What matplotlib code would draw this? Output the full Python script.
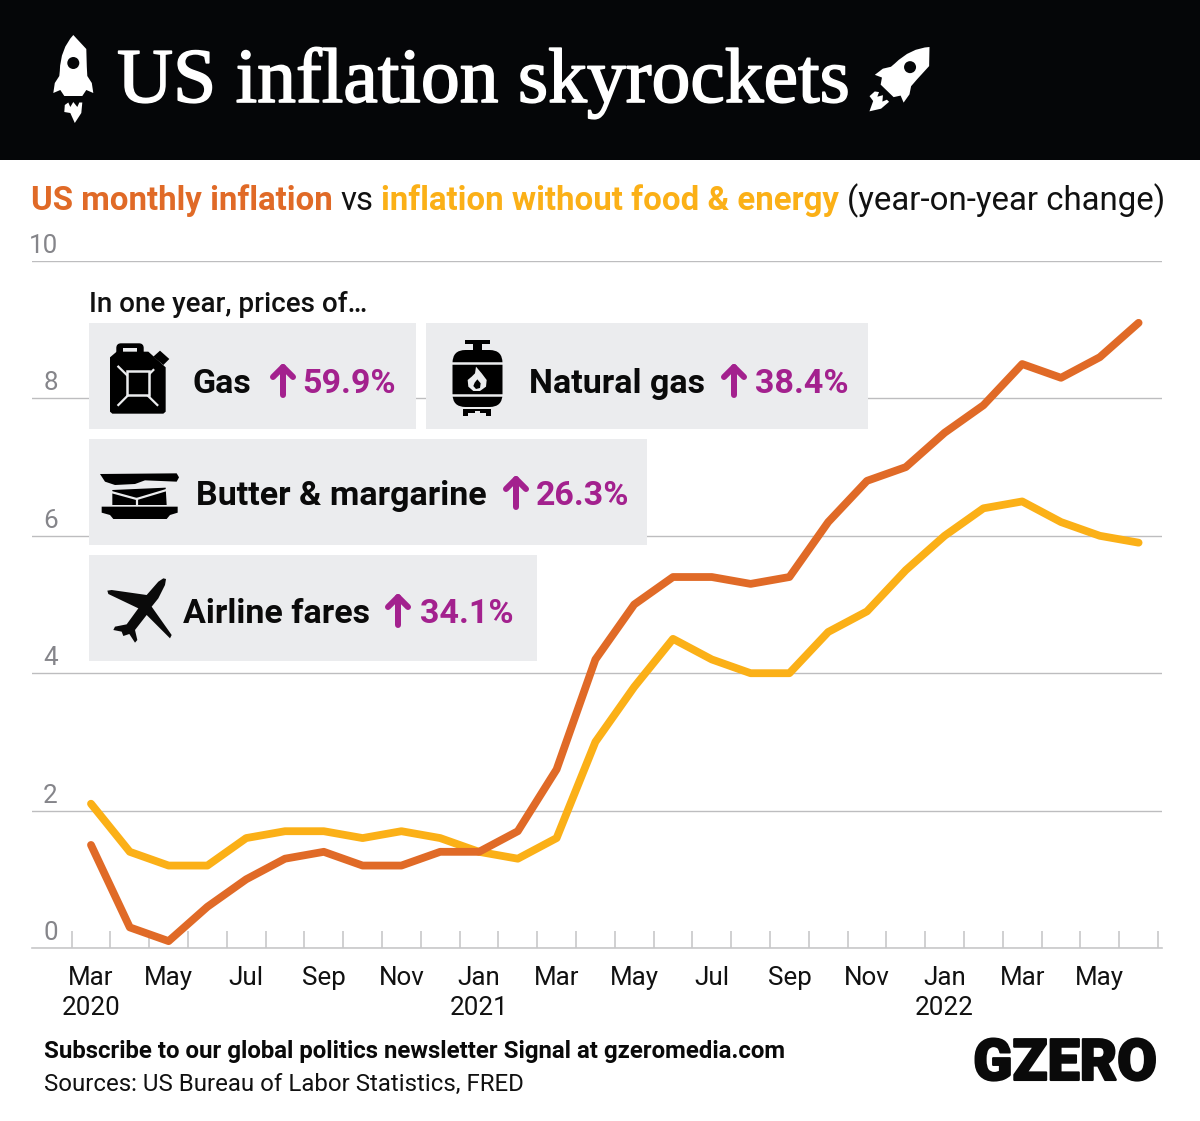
import numpy as np
import matplotlib
matplotlib.use("Agg")
import matplotlib.pyplot as plt
import matplotlib.patheffects as pe
from matplotlib.patches import Rectangle, Polygon, Circle, FancyBboxPatch, PathPatch
from matplotlib.path import Path
from matplotlib.transforms import Affine2D

months = ["Mar\n2020", "May", "Jul", "Sep", "Nov", "Jan\n2021", "Mar", "May", "Jul", "Sep",
          "Nov", "Jan\n2022", "Mar", "May"]
inflation = [1.5, 0.3, 0.1, 0.6, 1.0, 1.3, 1.4, 1.2, 1.2, 1.4, 1.4, 1.7, 2.6, 4.2,
             5.0, 5.4, 5.4, 5.3, 5.4, 6.2, 6.8, 7.0, 7.5, 7.9, 8.5, 8.3, 8.6, 9.1]
core = [2.1, 1.4, 1.2, 1.2, 1.6, 1.7, 1.7, 1.6, 1.7, 1.6, 1.4, 1.3, 1.6, 3.0,
        3.8, 4.5, 4.2, 4.0, 4.0, 4.6, 4.9, 5.5, 6.0, 6.4, 6.5, 6.2, 6.0, 5.9]
yticks = [0, 2, 4, 6, 8, 10]

W, H = 1200, 1121
ORANGE = "#E06A27"
YELLOW = "#FBB017"
PURPLE = "#A3218E"
PANEL = "#EBECEE"
BLACK = "#050608"
plt.rcParams["font.family"] = ["Roboto", "DejaVu Sans"]


def px(p):
    return p * 0.72


fig = plt.figure(figsize=(W / 100, H / 100), dpi=100, facecolor="white")

# chart axes, placed in pixels
left, right, top, bottom = 32, 1162, 261, 948
ax = fig.add_axes([left / W, 1 - bottom / H, (right - left) / W, (bottom - top) / H])
x0, dx = 91, 38.8
ax.set_xlim((left - x0) / dx, (right - x0) / dx)
ax.set_ylim(0, 10)
xs = np.arange(len(inflation))
ax.plot(xs, core, color=YELLOW, lw=px(7.8), solid_joinstyle="round", solid_capstyle="round", zorder=3)
ax.plot(xs, inflation, color=ORANGE, lw=px(7.8), solid_joinstyle="round", solid_capstyle="round", zorder=4)

for s in ["top", "left", "right"]:
    ax.spines[s].set_visible(False)
ax.spines["bottom"].set_color("#C8C8CA")
ax.spines["bottom"].set_linewidth(1.2)
ax.set_yticks(yticks)
ax.yaxis.grid(True, color="#BDBDBF", lw=1.0)
ax.set_axisbelow(True)
ax.tick_params(axis="y", length=0, pad=px(-26), labelsize=px(26), labelcolor="#85858A")
for lab in ax.get_yticklabels():
    lab.set_va("bottom")
    lab.set_transform(lab.get_transform() + Affine2D().translate(0, 3))
ax.set_xticks(np.arange(0, 28, 2))
ax.set_xticklabels(months, linespacing=1.33)
ax.set_xticks(np.arange(-0.5, 28, 1), minor=True)
ax.tick_params(axis="x", which="major", length=0, pad=px(18), labelsize=px(26), labelcolor="#111111")
ax.tick_params(axis="x", which="minor", direction="in", length=px(17), width=1.2, color="#C8C8CA")

# overlay in pixel coordinates for header, panels, icons
ov = fig.add_axes([0, 0, 1, 1], facecolor="none")
ov.set_xlim(0, W)
ov.set_ylim(H, 0)
ov.axis("off")

ov.add_patch(Rectangle((0, 0), W, 160, color=BLACK, lw=0))
ov.text(117, 102, "US inflation skyrockets", color="white", fontsize=px(77.6), family="Liberation Serif",
        va="baseline", path_effects=[pe.withStroke(linewidth=1.2, foreground="white")])


def local(points, ox, oy, s=1 / 3):
    return [(ox + a * s, oy + b * s) for a, b in points]


def poly(points, color="black", **kw):
    ov.add_patch(Polygon(points, closed=True, color=color, lw=0, **kw))


def rocket(tf):
    # drawn around the nose at (0, 0), y pointing down
    verts = [(0, 0), (-13, 14), (-13.5, 36), (-14, 41), (-18.5, 48), (-20, 58), (-13, 55), (-9, 61),
             (9, 61), (13, 55), (20, 58), (18.5, 48), (14, 41), (13.5, 36), (13, 14), (0, 0)]
    codes = [Path.MOVETO, Path.CURVE3, Path.CURVE3] + [Path.LINETO] * 10 + [Path.CURVE3, Path.CURVE3, Path.LINETO]
    ov.add_patch(PathPatch(Path(verts, codes).transformed(tf), color="white", lw=0))
    flame = [(-8.5, 70), (-5, 67.5), (-3, 72), (0, 67), (4, 72), (6, 67.5), (9, 67.5), (8, 78), (1.5, 88),
             (-3, 78), (-9, 77)]
    poly(tf.transform(flame), "white")
    ov.add_patch(Circle(tf.transform((0, 28)), 6, color=BLACK, lw=0))


rocket(Affine2D().translate(73.3, 35))
rocket(Affine2D().rotate_deg(44).translate(929.5, 47))

# subtitle in coloured pieces
sub = [(31, "US monthly inflation", ORANGE, "bold"), (340, "vs", "#111111", "normal"),
       (381, "inflation without food & energy", YELLOW, "bold"),
       (847, "(year-on-year change)", "#111111", "normal")]
for sx, txt, col, wgt in sub:
    ov.text(sx, 210, txt, color=col, fontweight=wgt, fontsize=px(33), va="baseline")

ov.text(89, 311.5, "In one year, prices of\u2026", fontsize=px(27.7), fontweight="medium", color="#111111", va="baseline")

panels = [(89, 323, 327, 106), (426, 323, 442, 106), (89, 439, 558, 106), (89, 555, 448, 106)]
for pxx, pyy, pw, ph in panels:
    ov.add_patch(Rectangle((pxx, pyy), pw, ph, color=PANEL, lw=0))

labels = [(192, 393, "Gas", 283, 302, "59.9%"),
          (529, 393, "Natural gas", 734, 755, "38.4%"),
          (196, 505, "Butter & margarine", 516, 536, "26.3%"),
          (183, 623, "Airline fares", 398, 420, "34.1%")]
for lx, base, name, ax_x, vx, val in labels:
    ov.text(lx, base, name, fontsize=px(34), fontweight="bold", color="#0a0a0a", va="baseline")
    ov.text(vx, base, val, fontsize=px(34), fontweight="bold", color=PURPLE, va="baseline")
    ov.plot([ax_x, ax_x], [base + 2, base - 26], color=PURPLE, lw=px(6), solid_capstyle="round")
    ov.plot([ax_x - 10, ax_x, ax_x + 10], [base - 16, base - 26, base - 16], color=PURPLE, lw=px(6),
            solid_capstyle="round", solid_joinstyle="round")

# jerry can
ox, oy = 80, 280
ov.add_patch(FancyBboxPatch((119, 346), 22, 10, boxstyle="round,pad=2,rounding_size=4", fc="black", ec="black"))
ov.add_patch(Rectangle((123, 348), 14, 6, color=PANEL, lw=0))
poly(local([(90, 232), (110, 215), (205, 215), (257, 262), (257, 395), (250, 401), (97, 401), (90, 395)], ox, oy))
poly(local([(220, 230), (240, 212), (268, 237), (250, 255)], ox, oy))
for a, b in [((115, 260), (232, 375)), ((220, 270), (115, 375))]:
    ov.plot(*zip(*local([a, b], ox, oy)), color=PANEL, lw=1.6)
ov.add_patch(Rectangle((80 + 142 / 3, 280 + 272 / 3), 66 / 3, 72 / 3, fc="black", ec=PANEL, lw=1.8, zorder=3))

# gas bottle
ox, oy = 420, 320
poly(local([(135, 60), (210, 60), (210, 72), (185, 72), (185, 90), (160, 90), (160, 72), (135, 72)], ox, oy))
ov.add_patch(FancyBboxPatch((452.5, 350), 50, 57, boxstyle="round,pad=0,rounding_size=13", fc="black", ec="none"))
ov.plot([452, 503], [362.5, 362.5], color=PANEL, lw=1.8)
ov.plot([452, 503], [395, 395], color=PANEL, lw=1.8)
poly(local([(130, 268), (214, 268), (214, 288), (198, 288), (198, 278), (180, 278), (180, 272), (164, 272),
            (164, 278), (145, 278), (145, 288), (130, 288)], ox, oy))
poly(local([(168, 140), (185, 160), (200, 180), (198, 200), (180, 213), (160, 213), (145, 200), (143, 180),
            (155, 170), (165, 160)], ox, oy), PANEL)
poly(local([(172, 178), (182, 190), (180, 204), (168, 207), (160, 198), (164, 188)], ox, oy), "black")

# butter dish
ox, oy = 95, 465
poly(local([(15, 27), (245, 25), (252, 37), (245, 50), (150, 46), (120, 57), (60, 60), (30, 50)], ox, oy))
poly(local([(52, 75), (212, 68), (215, 120), (52, 120)], ox, oy))
ov.plot(*zip(*local([(52, 82), (125, 102), (215, 75)], ox, oy)), color=PANEL, lw=1.6)
ov.plot(*zip(*local([(125, 102), (125, 120)], ox, oy)), color=PANEL, lw=1.6)
poly(local([(20, 125), (248, 125), (248, 143), (225, 150), (215, 162), (55, 162), (45, 150), (20, 143)], ox, oy))

# plane
ox, oy = 80, 280
plane = [(258, 897), (255, 915), (235, 955), (215, 980), (275, 1065), (270, 1075), (200, 1005), (165, 1050),
         (172, 1080), (165, 1088), (148, 1062), (130, 1068), (125, 1055), (100, 1050), (105, 1040), (140, 1033),
         (175, 985), (85, 942), (82, 932), (95, 930), (200, 945), (235, 905), (250, 895)]
poly(local(plane, ox, oy), "#0a0a0a")

ov.text(44, 1058, "Subscribe to our global politics newsletter Signal at gzeromedia.com", fontsize=px(24.03),
        fontweight="bold", color="#0a0a0a", va="baseline")
ov.text(44, 1091, "Sources: US Bureau of Labor Statistics, FRED", fontsize=px(23.95), color="#111111", va="baseline")
ov.text(1157, 1080, "GZERO", fontsize=px(57.5), fontweight="black", color="#0a0a0a", ha="right", va="baseline",
        path_effects=[pe.withStroke(linewidth=1.5, foreground="#0a0a0a")])

fig.savefig("out.png", dpi=100, facecolor="white")
